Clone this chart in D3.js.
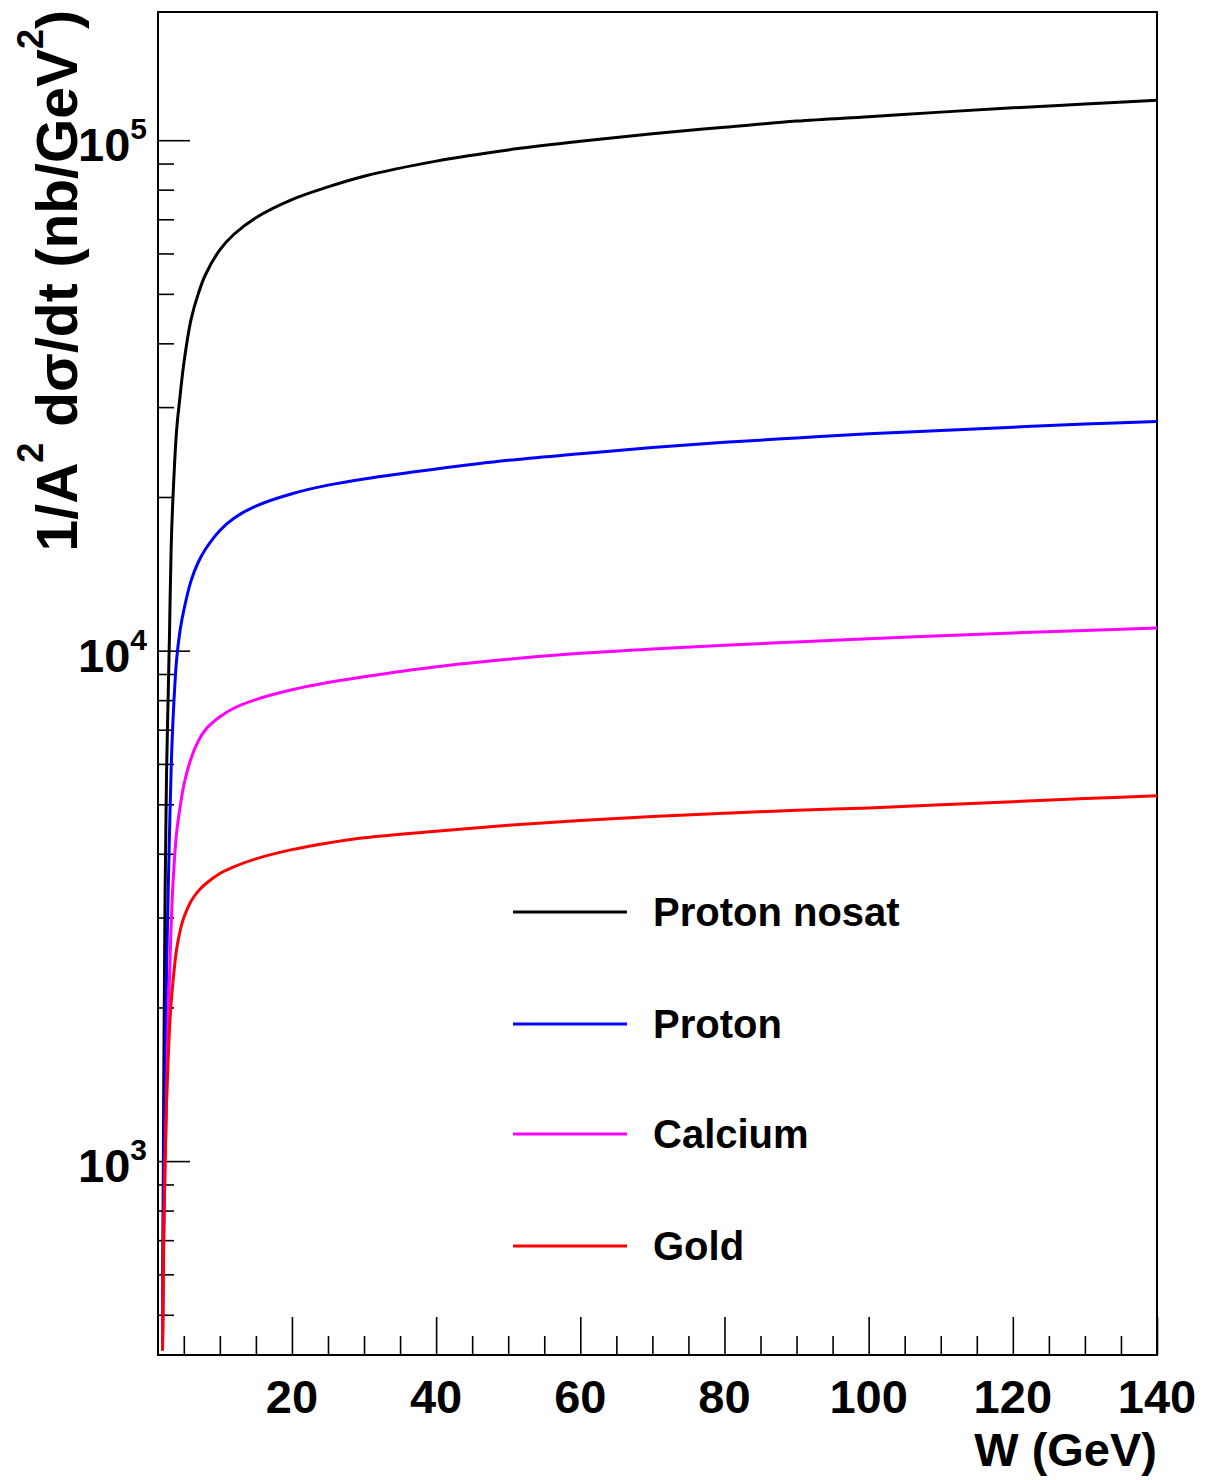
<!DOCTYPE html>
<html>
<head>
<meta charset="utf-8">
<title>dsigma/dt vs W</title>
<script src="https://cdn.jsdelivr.net/npm/d3@7"></script>
<style>
    body { margin: 0; background: #fff; }
    text { font-family: "Liberation Sans", Arial, Helvetica, sans-serif; font-weight: bold; fill: #000; }
</style>
</head>
<body>
<script>
    // W grid (GeV) and curve values (nb/GeV^2)
    const wValues = [2.05, 2.2, 2.4, 2.6, 2.8, 3, 3.25, 3.5, 4, 4.5, 5, 6, 7, 8, 10, 12, 15, 20, 25, 30,
        40, 50, 60, 70, 80, 90, 100, 110, 120, 130, 140];
    const protonNosat = [450, 1250, 3300, 5700, 7800, 10500, 16000, 20000, 27000, 31700, 36500, 44500, 50000, 54500,
        61000, 65500, 70500, 76500, 81000, 85000, 91000, 95700, 99500, 103000, 106000, 109000, 111200, 113500, 115700, 117700, 119700];
    const proton = [440, 900, 1530, 2330, 3200, 4300, 5900, 7300, 9600, 11000, 12000, 13700, 14900, 15800,
        17200, 18200, 19200, 20300, 21100, 21700, 22700, 23600, 24300, 25000, 25600, 26100, 26600, 27000, 27400, 27800, 28100];
    const calcium = [430, 700, 1000, 1300, 1800, 2250, 2900, 3500, 4400, 4950, 5450, 6150, 6650, 7000,
        7420, 7720, 8020, 8380, 8660, 8890, 9300, 9620, 9880, 10080, 10250, 10400, 10550, 10700, 10830, 10950, 11070];
    const gold = [425, 680, 990, 1300, 1550, 1800, 2050, 2250, 2600, 2830, 3000, 3230, 3380, 3490,
        3660, 3775, 3910, 4075, 4200, 4300, 4430, 4550, 4650, 4730, 4800, 4870, 4920, 4990, 5060, 5130, 5195];

    const seriesNames = ["Proton nosat", "Proton", "Calcium", "Gold"];
    const seriesColors = ["#000000", "#0000ff", "#ff00ff", "#ff0000"];
    const seriesValues = [protonNosat, proton, calcium, gold];

    const xMajor = [20, 40, 60, 80, 100, 120, 140];
    const yMajor = [1e3, 1e4, 1e5];
    const yExp = ["3", "4", "5"];

    const width = 1206, height = 1480;
    const fLeft = 158, fRight = 1157, fTop = 12, fBottom = 1355;

    const x = d3.scaleLinear().domain([1.42, 140]).range([fLeft, fRight]);
    const y = d3.scaleLog().domain([417, 1.783e5]).range([fBottom, fTop]);

    const svg = d3.select("body").append("svg")
        .attr("width", width).attr("height", height)
        .attr("viewBox", [0, 0, width, height]);

    svg.append("clipPath").attr("id", "frame")
        .append("rect").attr("x", fLeft).attr("y", fTop)
        .attr("width", fRight - fLeft).attr("height", fBottom - fTop);

    // minor ticks
    const xMinor = d3.range(5, 141, 5).filter(v => v % 20 !== 0);
    const yMinor = [];
    [100, 1000, 10000, 100000].forEach(d => {
        for (let k = 2; k <= 9; k++) {
            const v = d * k;
            if (v > y.domain()[0] && v < y.domain()[1]) yMinor.push(v);
        }
    });

    const axisStroke = g => g.call(g => g.select(".domain").remove())
        .call(g => g.selectAll(".tick line").attr("stroke", "#000").attr("stroke-width", 1.6));

    svg.append("g").attr("transform", `translate(0,${fBottom})`)
        .call(d3.axisBottom(x).tickValues(xMinor).tickSize(-19).tickFormat(""))
        .call(axisStroke);
    svg.append("g").attr("transform", `translate(0,${fBottom})`)
        .call(d3.axisBottom(x).tickValues(xMajor).tickSize(-38).tickFormat(""))
        .call(axisStroke);
    svg.append("g").attr("transform", `translate(${fLeft},0)`)
        .call(d3.axisLeft(y).tickValues(yMinor).tickSize(-16).tickFormat(""))
        .call(axisStroke);
    svg.append("g").attr("transform", `translate(${fLeft},0)`)
        .call(d3.axisLeft(y).tickValues(yMajor).tickSize(-32).tickFormat(""))
        .call(axisStroke);

    // x tick labels
    svg.append("g").selectAll("text").data(xMajor).join("text")
        .attr("x", d => x(d)).attr("y", fBottom + 58)
        .attr("text-anchor", "middle").attr("font-size", 47)
        .text(d => d);

    // y tick labels 10^n
    const yl = svg.append("g").selectAll("text").data(yMajor).join("text")
        .attr("x", fLeft - 11).attr("y", d => y(d) + 21)
        .attr("text-anchor", "end").attr("font-size", 47);
    yl.append("tspan").text("10");
    yl.append("tspan").attr("font-size", 30).attr("dy", -22).text((d, i) => yExp[i]);

    // frame
    svg.append("rect").attr("x", fLeft).attr("y", fTop)
        .attr("width", fRight - fLeft).attr("height", fBottom - fTop)
        .attr("fill", "none").attr("stroke", "#000").attr("stroke-width", 2);

    // curves
    const line = d3.line()
        .x(d => x(d[0])).y(d => y(d[1]))
        .curve(d3.curveCatmullRom.alpha(0.5));

    svg.append("g").attr("clip-path", "url(#frame)")
        .selectAll("path").data(seriesValues).join("path")
        .attr("d", vals => line(wValues.map((w, i) => [w, vals[i]])))
        .attr("fill", "none")
        .attr("stroke", (d, i) => seriesColors[i])
        .attr("stroke-width", 3);

    // legend
    const legendY = [912, 1024, 1134, 1246];
    const lg = svg.append("g").selectAll("g").data(seriesNames).join("g")
        .attr("transform", (d, i) => `translate(0,${legendY[i]})`);
    lg.append("line").attr("x1", 513).attr("x2", 627)
        .attr("stroke", (d, i) => seriesColors[i]).attr("stroke-width", 3);
    lg.append("text").attr("x", 653).attr("y", 14)
        .attr("font-size", 40).text(d => d);

    // axis titles
    svg.append("text").attr("x", fRight).attr("y", 1466)
        .attr("text-anchor", "end").attr("font-size", 47)
        .text("W (GeV)");

    const yt = svg.append("text")
        .attr("transform", "translate(77,10) rotate(-90)")
        .attr("text-anchor", "end").attr("font-size", 57);
    yt.append("tspan").text("1/A");
    yt.append("tspan").attr("font-size", 36).attr("dy", -34).text("2");
    yt.append("tspan").attr("dy", 34).text(" d\u03c3/dt (nb/GeV");
    yt.append("tspan").attr("font-size", 36).attr("dy", -34).text("2");
    yt.append("tspan").attr("dy", 34).text(")");
</script>
</body>
</html>
